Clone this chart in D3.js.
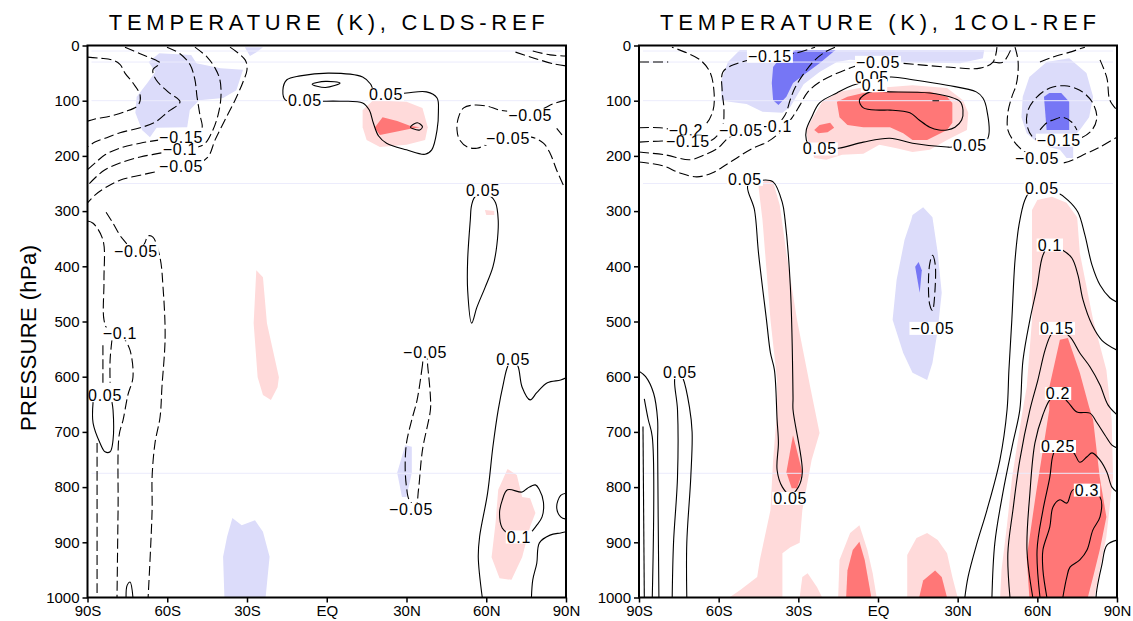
<!DOCTYPE html>
<html>
<head>
<meta charset="utf-8">
<script src="https://cdn.jsdelivr.net/npm/d3@7"></script>
<style>
  body { margin: 0; background: #fff; }
  text { font-family: "Liberation Sans", Arial, sans-serif; }
</style>
</head>
<body>
<div id="chart"></div>
<script>
// ---- axes ----
const latTicks = [-90, -60, -30, 0, 30, 60, 90];
const latTickLabels = ["90S", "60S", "30S", "EQ", "30N", "60N", "90N"];
const presTicks = [0, 100, 200, 300, 400, 500, 600, 700, 800, 900, 1000];
const titles = ["TEMPERATURE (K), CLDS-REF", "TEMPERATURE (K), 1COL-REF"];
const yTitle = "PRESSURE (hPa)";
const faintLevels = [10, 30, 100, 250, 775];

// ---- CLDS-REF : shaded regions [lat, hPa], keyed by shading threshold ----
const cldsFills = [
  { lev: -0.1, pts: [[-67,30],[-63,14],[-51,17],[-49,32],[-40,41],[-31.5,44],[-34,81],[-39,95],[-48,99],[-51.5,117],[-52.5,148],[-64,149],[-66.5,166],[-69.5,153],[-72,122],[-71.5,93],[-67.5,68],[-64.5,48]] },
  { lev: -0.1, pts: [[-30.8,3],[-24,3],[-26.3,12],[-28.9,19]] },
  { lev: 0.1, pts: [[13.5,117],[17.5,99],[30,102],[36,113],[38,148],[37,171],[30,180],[20,184],[15,171],[13.5,148]] },
  { lev: 0.2, pts: [[18,149],[21,130],[26.5,137],[31.5,146],[35,148],[31.5,151],[26.5,156],[20,162]] },
  { lev: 0.1, pts: [[59.5,298],[63,300],[63,307],[60,307]] },
  { lev: 0.1, pts: [[-26.5,407],[-24,420],[-22.5,503],[-18,601],[-18.5,619],[-21,642],[-24,633],[-26,601],[-27.5,503]] },
  { lev: -0.1, pts: [[-38.5,1000],[-39,926],[-37.5,890],[-35.5,856],[-32,869],[-27,860],[-24,881],[-21.5,926],[-23,1000]] },
  { lev: -0.1, pts: [[29.5,724],[32,727],[32,774],[30,818],[28.3,818],[26.5,774]] },
  { lev: 0.1, pts: [[68,767],[71.5,778],[73.5,818],[76.5,820],[78.5,847],[76.5,872],[73.5,927],[69.5,968],[65,965],[62,927],[63.5,865],[64.5,805]] }
];

// ---- CLDS-REF : contour lines ----
const cldsLines = [
  { dash: false, closed: true,  pts: [[-15.5,99],[-16.5,81],[-15,62],[-10,55],[1,50],[13.5,57],[16.5,70],[18,84],[24,88],[30,86],[37.5,84],[41.5,95],[42,120],[41.5,153],[39.5,189],[37,197],[30,189],[22.5,177],[19.5,164],[17.5,140],[16,117],[13.5,104],[5,101],[-2.5,101],[-10,101]] },
  { dash: false, closed: true,  pts: [[-5.5,70],[-0.5,65],[5,68],[-0.5,76]] },
  { dash: false, closed: true,  pts: [[31.5,148],[34,140],[36,147],[35,153],[32.5,151]] },
  { dash: true,  closed: false, pts: [[90,99],[85,106],[80,117],[72.5,120],[65,117],[60.5,110],[55,108],[51.5,113],[49.5,131],[49,153],[50,171],[53,184],[56.5,186],[61.5,177],[69,168],[77,166],[81.5,177],[84,195],[86.5,226],[89,253]] },
  { dash: true,  closed: false, pts: [[86.5,150],[88.5,162]] },
  { dash: true,  closed: false, pts: [[71,12],[78,23],[86,34],[90,37]] },
  { dash: true,  closed: false, pts: [[77.5,10],[84,17],[90,19]] },
  { dash: false, closed: true,  pts: [[56,273],[54.5,289],[54,316],[53,389],[53,443],[54.5,503],[56.5,474],[59.5,439],[62.5,401],[64,361],[64.5,316],[63.5,285],[61.5,273]] },
  { dash: false, closed: false, pts: [[58.5,1000],[57,927],[57.5,890],[60.5,811],[62.5,727],[64.5,660],[66.5,611],[68,582],[70,566],[72,582],[73.5,619],[76.5,642],[79,629],[83,611],[88,606],[90,602]] },
  { dash: false, closed: true,  pts: [[68,883],[66,874],[65,847],[66,824],[68,805],[73.5,809],[75.5,802],[78.5,796],[80,805],[81.5,827],[81,854],[79,869],[76.5,883],[72.5,890]] },
  { dash: false, closed: false, pts: [[90,811],[88,815],[86.5,836],[88,854],[90,858]] },
  { dash: false, closed: false, pts: [[90,881],[88,883],[84,887],[80,901],[79,938],[77.5,968],[77,1000]] },
  { dash: true,  closed: true,  pts: [[36.5,561],[36,579],[34,642],[32,678],[30,720],[29.5,764],[30,800],[31,823],[33.5,834],[34.5,805],[36,733],[39,660],[39,637],[38,582],[37.5,561]] },
  // upper-left negative contours
  { dash: true,  closed: false, pts: [[-36.4,3],[-30.7,26],[-30,44],[-31.5,66],[-34.5,99],[-38.3,135],[-42,171],[-44.7,202],[-49.6,216],[-54.8,218],[-62.7,227],[-70.2,235],[-77.8,244],[-83.4,258],[-87.2,271],[-90,285]] },
  { dash: true,  closed: false, pts: [[-49.6,3],[-45,21],[-42,41],[-40.2,62],[-39.8,93],[-40.9,126],[-43.2,157],[-46.5,180],[-55.2,188],[-62.7,195],[-70.2,202],[-77.8,213],[-83.4,225],[-87.2,240],[-90,254]] },
  { dash: true,  closed: false, pts: [[-60.1,3],[-55.2,15],[-51.4,35],[-49.6,62],[-48.8,93],[-47.7,126],[-46.9,149],[-49.2,162],[-54.8,166],[-62.7,171],[-70.2,177],[-77.8,186],[-83.4,198],[-87.2,213],[-90,225]] },
  { dash: true,  closed: false, pts: [[-75.9,3],[-70.2,15],[-64.6,26],[-62.7,32],[-65.4,44],[-64.2,62],[-59.7,84],[-55.2,102],[-59.7,120],[-64.6,139],[-70.2,149],[-77.8,158],[-83.4,168],[-87.2,175],[-90,184]] },
  { dash: true,  closed: false, pts: [[-90,21],[-85.3,23],[-80.8,26],[-77.8,34],[-75.9,50],[-72.9,68],[-70.2,90],[-70.9,108],[-75.9,120],[-81.5,128],[-87.2,133],[-90,137]] },
  // lower-left contours
  { dash: true,  closed: false, pts: [[-90,318],[-87.9,322],[-84.2,352],[-83.8,425],[-83.8,497],[-82.3,515],[-77.8,522]] },
  { dash: true,  closed: false, pts: [[-77.8,522],[-76.3,530],[-74,552],[-72.9,601],[-74.8,633],[-76.6,678],[-78.1,706],[-78.5,842],[-78.9,1000]] },
  { dash: true,  closed: false, pts: [[-80.8,533],[-81.5,570],[-81.5,611]] },
  { dash: true,  closed: false, pts: [[-84.2,543],[-84.2,611]] },
  { dash: false, closed: false, pts: [[-87.9,646],[-87.9,684],[-85.3,720],[-83.4,736],[-81.5,736],[-80.4,715],[-80.4,660],[-80.8,646]] },
  { dash: true,  closed: false, pts: [[-86.4,720],[-86.4,860],[-86.4,1000]] },
  { dash: true,  closed: false, pts: [[-83,302],[-80.4,322],[-77,349],[-71.8,372],[-68.7,360],[-67.2,345],[-65.4,347],[-62.7,385],[-61.6,437],[-60.8,528],[-62,619],[-62.7,673],[-64.6,720],[-65.7,782],[-65.7,842],[-67.2,1000]] },
  { dash: false, closed: false, pts: [[-75.5,1000],[-75.1,978],[-74,972],[-72.9,1000]] }
];

const cldsLabels = [
  { t: "0.05", lat: -8.2, p: 100 }, { t: "0.05", lat: 22.3, p: 88 },
  { t: "\u22120.15", lat: -54.8, p: 166 }, { t: "\u22120.1", lat: -55.2, p: 188 }, { t: "\u22120.05", lat: -54.8, p: 218 },
  { t: "\u22120.05", lat: 76.5, p: 126 }, { t: "\u22120.05", lat: 68.2, p: 168 },
  { t: "0.05", lat: 58.8, p: 262 }, { t: "\u22120.05", lat: -71.8, p: 372 },
  { t: "\u22120.1", lat: -77.8, p: 522 }, { t: "0.05", lat: -83.4, p: 633 },
  { t: "\u22120.05", lat: 37, p: 555 }, { t: "0.05", lat: 70.1, p: 568 },
  { t: "\u22120.05", lat: 31.7, p: 840 }, { t: "0.1", lat: 72.3, p: 890 }
];

// ---- 1COL-REF : shaded regions ----
const colFills = [
  { lev: -0.1, pts: [[-59,99],[-59,62],[-56.5,30],[-52,8],[40,8],[39.5,23],[31,32],[8,30],[-10.5,26],[-15.5,30],[-22,48],[-28,70],[-33,111],[-36,122],[-43.5,120],[-49.5,106],[-56,102]] },
  { lev: -0.2, pts: [[-39.5,39],[-38,30],[-31,8],[-16,8],[-22,32],[-27,50],[-32,68],[-34.5,93],[-37.5,108],[-39.5,99],[-40,68]] },
  { lev: -0.1, pts: [[54.5,93],[57,57],[63.5,30],[72,23],[78.5,50],[81,93],[79.5,130],[76,153],[73.5,166],[73.5,204],[71,204],[68.5,189],[61,180],[56,159],[54,130]] },
  { lev: -0.2, pts: [[62.5,93],[64.5,86],[69,86],[72,102],[72,153],[63.5,153]] },
  { lev: 0.1, pts: [[-27,153],[-24.5,130],[-21,102],[-14.5,84],[-7,77],[4.5,75],[13,72],[26,77],[32,99],[34,122],[33.5,153],[31,159],[26,171],[19.5,189],[13,193],[7,186],[0.5,180],[-5.5,196],[-13.5,198],[-19.5,207],[-24,204],[-25,189],[-26.5,171]] },
  { lev: 0.2, pts: [[-15.5,102],[-11.5,93],[-5.5,86],[4.5,84],[19.5,84],[26,93],[28,104],[28,140],[26,153],[18.5,171],[13,171],[9.5,159],[4.5,148],[-5.5,148],[-11.5,144],[-14.5,130]] },
  { lev: 0.2, pts: [[-24,153],[-22,144],[-18,140],[-16.5,149],[-19,157],[-22.5,159]] },
  { lev: 0.1, pts: [[-45,256],[-42.5,244],[-39.5,247],[-37,289],[-34.5,376],[-30.5,497],[-25.5,619],[-22,702],[-25,751],[-28.5,842],[-29.5,901],[-33,909],[-36,920],[-36,1000],[-56,1000],[-52,987],[-45.5,963],[-44.5,932],[-40.5,842],[-39.5,751],[-38,660],[-38,606],[-40.5,497],[-43.5,316]] },
  { lev: 0.1, pts: [[-29.5,1000],[-28.5,963],[-26.5,956],[-23,981],[-21,1000]] },
  { lev: 0.2, pts: [[-32,706],[-28.5,773],[-30.5,802],[-32.5,802],[-34.5,773]] },
  { lev: 0.1, pts: [[-15,1000],[-14.5,932],[-10.5,883],[-7,869],[-4,914],[-2,956],[-0.5,1000]] },
  { lev: 0.2, pts: [[-12,1000],[-11.5,951],[-9.5,914],[-7,899],[-5,932],[-2.5,1000]] },
  { lev: 0.1, pts: [[11,1000],[11,923],[14.5,892],[18.5,883],[22.5,896],[26,920],[28,963],[30,1000]] },
  { lev: 0.2, pts: [[15.5,1000],[17,969],[21.5,951],[24,963],[26,1000]] },
  { lev: -0.1, pts: [[13,307],[17,293],[20.5,311],[22.5,376],[24,448],[22.5,515],[20.5,575],[18.5,606],[13,593],[9.5,557],[5.5,497],[7,425],[10,352],[12.5,316]] },
  { lev: -0.2, pts: [[14,401],[15.3,392],[16.5,407],[15.7,448]] },
  { lev: 0.1, pts: [[58,298],[60,280],[65.5,274],[71,285],[75,311],[76,376],[81,497],[86,588],[88,678],[88.5,782],[86,890],[83.5,950],[81.5,1000],[46,1000],[46.5,950],[48.5,872],[50.5,782],[54.5,660],[56,619],[58,497],[58,316]] },
  { lev: 0.2, pts: [[68.5,533],[71.5,530],[76,593],[79.5,655],[81,678],[83.5,782],[86,854],[83.5,914],[81,963],[79,1000],[57,1000],[56,927],[59.5,811],[64.5,660],[64.5,619]] }
];

// ---- 1COL-REF : contour lines ----
const colLines = [
  { dash: false, closed: true,  pts: [[-15,186],[-5.5,175],[4.5,168],[13,177],[26,184],[28,184],[41,171],[41,117],[39.5,95],[37,84],[26,72],[13,62],[4.5,57],[-9.5,72],[-15.5,86],[-22,104],[-25,130],[-27,153],[-27,171],[-25,186]] },
  { dash: false, closed: true,  pts: [[-7,99],[-3,84],[4.5,84],[19.5,86],[27,93],[31,102],[32,117],[31.5,135],[29,148],[26,153],[23,153],[19.5,148],[15.5,135],[12,122],[4.5,117],[0.5,117],[-5.5,113]] },
  { dash: false, closed: false, pts: [[20.5,100],[23,100]] },
  // upper-left negative contours
  { dash: true,  closed: false, pts: [[-90,149],[-82.1,149],[-72.3,155],[-65.2,144],[-62.1,117],[-61.8,81],[-63.3,48],[-67,26],[-72.7,12],[-77.6,3]] },
  { dash: true,  closed: false, pts: [[-90,30],[-79,30]] },
  { dash: true,  closed: false, pts: [[-90,175],[-81.3,173],[-71.6,173],[-62.5,171],[-58.7,149],[-58,117],[-58.7,81],[-58.4,48],[-53.9,34],[-40.7,19],[-31.3,14],[-23.7,3]] },
  { dash: true,  closed: false, pts: [[-90,193],[-80.2,198],[-70.8,207],[-65.2,198],[-60.3,186],[-56.5,168],[-51.6,155],[-43.7,149],[-38.8,146],[-35,126],[-33.1,99],[-31.3,77],[-27.5,48],[-23.7,26],[-20,12],[-16.2,3]] },
  { dash: true,  closed: false, pts: [[-90,211],[-81,218],[-74.6,231],[-68.2,238],[-62.5,231],[-57.2,216],[-52,200],[-47.1,186],[-41.8,175],[-36.9,157],[-32.4,131],[-29.4,108],[-26.4,84],[-21.9,66],[-16.2,52],[-10.6,41],[-6,34],[0,30],[8.3,32],[26,39],[38.4,41],[43.3,30],[44.8,3]] },
  // upper-right negative contours
  { dash: true,  closed: false, pts: [[43.3,30],[47.1,30],[50.4,3]] },
  { dash: true,  closed: false, pts: [[51.6,3],[52.7,26],[52.7,50],[52,72],[50.4,93],[48.9,122],[48.9,153],[50.8,171],[54.2,189],[59.9,204],[69.3,213],[78.7,195],[83.6,184],[90,166]] },
  { dash: true,  closed: false, pts: [[61,30],[65.9,21],[72.3,12],[77.9,3]] },
  { dash: true,  closed: true,  pts: [[68.1,171],[62.9,173],[58.3,166],[56.1,144],[56.5,117],[59.9,93],[64.7,77],[70.3,73],[76,81],[80.6,102],[82.4,130],[80.6,153],[76,168]] },
  { dash: true,  closed: false, pts: [[61,153],[63.6,140],[65.9,135],[69.6,130],[73,139],[74.9,153]] },
  { dash: true,  closed: false, pts: [[83.6,26],[86.2,59],[87.3,99],[90,117]] },
  // south polar and 30S columns
  { dash: false, closed: false, pts: [[-90,590],[-87.5,600],[-84.5,630],[-83,678],[-83,720],[-82.5,1000]] },
  { dash: false, closed: false, pts: [[-88,640],[-86.5,678],[-85,709],[-85,1000]] },
  { dash: false, closed: false, pts: [[-88.5,690],[-88,1000]] },
  { dash: false, closed: false, pts: [[-77.5,1000],[-77,901],[-75.5,782],[-75.5,660],[-76.5,602],[-75,590],[-73.5,602],[-71,655],[-70,700],[-70.5,782],[-72,901],[-72,1000]] },
  { dash: false, closed: true,  pts: [[-49,253],[-46.5,298],[-45,376],[-42,497],[-40.5,557],[-39,588],[-38,678],[-37.5,720],[-38,769],[-36,800],[-33,814],[-30,800],[-28.5,773],[-32,660],[-32,637],[-33,437],[-35,316],[-36,285],[-39.5,247],[-43.5,244]] },
  { dash: true,  closed: true,  pts: [[19.5,395],[20.5,380],[21.5,395],[21.5,440],[20.5,480],[19.5,470],[19,430]] },
  // northern high-latitude warming
  { dash: false, closed: false, pts: [[32.7,1000],[33.9,963],[37.3,901],[41,842],[45.9,751],[48.6,660],[49.3,588],[50.4,497],[51.6,389],[53.1,325],[55.3,280],[57.2,265],[61.7,258],[67,265],[71.5,280],[75.3,302],[77.9,343],[80.6,398],[83.6,434],[87.3,457],[90,465]] },
  { dash: false, closed: false, pts: [[42.9,1000],[44,901],[47,811],[50.8,720],[53.4,660],[54.6,570],[57.2,497],[59.9,437],[62.1,380],[64.7,361],[69.3,370],[73,385],[75.3,416],[77.2,461],[80.6,506],[84.3,534],[90,552]] },
  { dash: false, closed: false, pts: [[49.7,1000],[48.9,920],[50.8,842],[53.4,751],[57.2,660],[60.2,606],[62.9,552],[65,525],[67.4,512],[72.3,528],[76,557],[79.8,582],[83.6,615],[86.6,651],[90,669]] },
  { dash: false, closed: false, pts: [[58.3,1000],[56.1,914],[57.2,811],[59.1,720],[62.1,669],[64.7,642],[67.8,630],[71.5,646],[74.9,664],[79.8,666],[82.4,683],[85.5,706],[88.1,724],[90,729]] },
  { dash: false, closed: false, pts: [[61,1000],[59.9,914],[62.1,842],[64.7,782],[65.9,742],[67.8,726],[73.4,736],[76,755],[78.7,745],[80.6,738],[83.6,751],[86.2,773],[88.1,800],[90,809]] },
  { dash: false, closed: false, pts: [[63.6,1000],[62.1,950],[62.1,914],[64.7,872],[65.9,836],[68.5,823],[71.1,829],[73.4,805],[78.7,805],[83.6,818],[83.6,854],[80.9,878],[78.7,914],[76,932],[72.3,945],[71.1,963],[69.6,1000]] },
  { dash: false, closed: false, pts: [[90,896],[86.2,905],[84.3,941],[82.4,986],[82.1,1000]] }
];

const colLabels = [
  { t: "\u22120.15", lat: -40.7, p: 19 }, { t: "\u22120.05", lat: 0, p: 30 },
  { t: "0.05", lat: -2.3, p: 57 }, { t: "0.1", lat: -1.5, p: 72 },
  { t: "\u22120.2", lat: -72.3, p: 153 }, { t: "\u22120.1", lat: -38.8, p: 146 },
  { t: "\u22120.05", lat: -51.6, p: 153 },
  { t: "\u22120.15", lat: -71.6, p: 174 }, { t: "0.05", lat: -21.9, p: 187 },
  { t: "0.05", lat: 34.6, p: 180 }, { t: "\u22120.15", lat: 68.1, p: 171 },
  { t: "\u22120.05", lat: 59.9, p: 204 }, { t: "0.05", lat: -50.1, p: 242 },
  { t: "0.05", lat: 61.7, p: 258 }, { t: "0.1", lat: 64.7, p: 361 },
  { t: "\u22120.05", lat: 20.5, p: 512 }, { t: "0.15", lat: 67.4, p: 512 },
  { t: "0.05", lat: -74.6, p: 592 }, { t: "0.2", lat: 67.8, p: 630 },
  { t: "0.25", lat: 67.8, p: 726 }, { t: "0.05", lat: -33.1, p: 820 },
  { t: "0.3", lat: 78.7, p: 805 }
];

const panels = [
  { x0: 87.5, x1: 566, title: titles[0], fills: cldsFills, lines: cldsLines, labels: cldsLabels },
  { x0: 639, x1: 1117, title: titles[1], fills: colFills, lines: colLines, labels: colLabels }
];

const fillColor = { "-0.2": "#7676f5", "-0.1": "#dcdcfa", "0.1": "#ffdada", "0.2": "#ff7777" };

const W = 1133, H = 621, yTop = 45.5, yBot = 597.5;

const svg = d3.select("#chart").append("svg")
  .attr("width", W).attr("height", H);

panels.forEach((pn, i) => {
  const x = d3.scaleLinear().domain([-90, 90]).range([pn.x0, pn.x1]);
  const y = d3.scaleLinear().domain([0, 1000]).range([yTop, yBot]);

  const g = svg.append("g");
  const clipId = "clip" + i;
  svg.append("clipPath").attr("id", clipId)
    .append("rect").attr("x", pn.x0).attr("y", yTop)
    .attr("width", pn.x1 - pn.x0).attr("height", yBot - yTop);

  const plot = g.append("g").attr("clip-path", `url(#${clipId})`);

  // shaded regions
  const area = d3.line().x(d => x(d[0])).y(d => y(d[1])).curve(d3.curveLinearClosed);
  plot.selectAll("path.fill").data(pn.fills).enter()
    .append("path").attr("class", "fill")
    .attr("d", d => area(d.pts))
    .attr("fill", d => fillColor[String(d.lev)])
    .attr("stroke", "none");

  // faint horizontal rendering lines seen in the original
  plot.selectAll("line.faint").data(faintLevels).enter()
    .append("line").attr("class", "faint")
    .attr("x1", x(-88.5)).attr("x2", x(88.5))
    .attr("y1", d => y(d)).attr("y2", d => y(d))
    .attr("stroke", "#ececfc").attr("stroke-width", 1);

  // contour lines
  const openLine = d3.line().x(d => x(d[0])).y(d => y(d[1])).curve(d3.curveCatmullRom.alpha(0.5));
  const closedLine = d3.line().x(d => x(d[0])).y(d => y(d[1])).curve(d3.curveCatmullRomClosed.alpha(0.5));
  plot.selectAll("path.cont").data(pn.lines).enter()
    .append("path").attr("class", "cont")
    .attr("d", d => (d.closed ? closedLine : openLine)(d.pts))
    .attr("fill", "none")
    .attr("stroke", "#000")
    .attr("stroke-width", 1.1)
    .attr("stroke-dasharray", d => d.dash ? "10,4" : null);

  // contour labels on white boxes
  const lab = plot.selectAll("g.lab").data(pn.labels).enter()
    .append("g").attr("class", "lab")
    .attr("transform", d => `translate(${x(d.lat)},${y(d.p)})`);
  lab.append("rect").attr("fill", "#fff");
  lab.append("text")
    .attr("text-anchor", "middle").attr("dy", "0.36em")
    .attr("font-size", 16).attr("letter-spacing", 0.7)
    .attr("fill", "#000")
    .text(d => d.t);
  lab.each(function () {
    const bb = d3.select(this).select("text").node().getBBox();
    d3.select(this).select("rect")
      .attr("x", bb.x - 1).attr("y", bb.y + 2)
      .attr("width", bb.width + 2).attr("height", bb.height - 4);
  });

  // frame
  g.append("rect").attr("x", pn.x0).attr("y", yTop)
    .attr("width", pn.x1 - pn.x0).attr("height", yBot - yTop)
    .attr("fill", "none").attr("stroke", "#000").attr("stroke-width", 2);

  // axes
  const xAxis = d3.axisBottom(x).tickValues(latTicks)
    .tickFormat((d, k) => latTickLabels[k]).tickSize(5).tickPadding(3);
  const yAxis = d3.axisLeft(y).tickValues(presTicks)
    .tickFormat(d3.format("d")).tickSize(5).tickPadding(3);

  const gx = g.append("g").attr("transform", `translate(0,${yBot})`).call(xAxis);
  const gy = g.append("g").attr("transform", `translate(${pn.x0},0)`).call(yAxis);
  [gx, gy].forEach(ax => {
    ax.select(".domain").remove();
    ax.selectAll(".tick line").attr("stroke", "#000").attr("stroke-width", 1.5);
    ax.selectAll(".tick text").attr("font-size", 15)
      .attr("font-family", "Liberation Sans, Arial, sans-serif").attr("fill", "#000");
  });

  // title
  g.append("text")
    .attr("x", (pn.x0 + pn.x1) / 2).attr("y", 30)
    .attr("text-anchor", "middle")
    .attr("font-size", 22).attr("fill", "#000")
    .attr("textLength", 436).attr("lengthAdjust", "spacing")
    .text(pn.title);
});

// y axis title
svg.append("text")
  .attr("transform", "translate(36,338) rotate(-90)")
  .attr("text-anchor", "middle")
  .attr("font-size", 22).attr("fill", "#000")
  .attr("textLength", 186).attr("lengthAdjust", "spacing")
  .text(yTitle);
</script>
</body>
</html>
